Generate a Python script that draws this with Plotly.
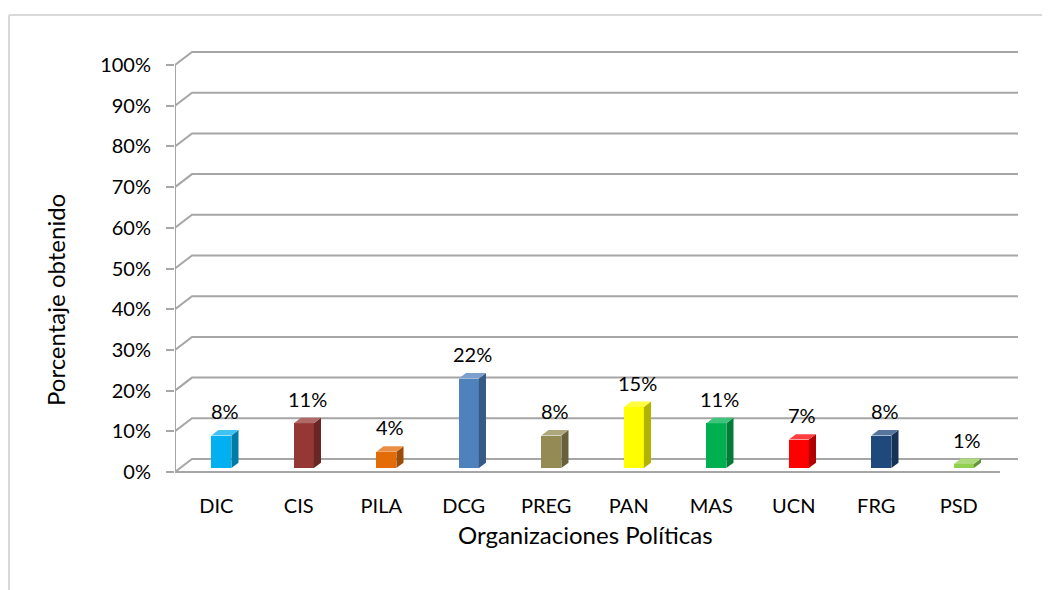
import plotly.graph_objects as go

categories = ["DIC", "CIS", "PILA", "DCG", "PREG", "PAN", "MAS", "UCN", "FRG", "PSD"]
values = [8, 11, 4, 22, 8, 15, 11, 7, 8, 1]
colors = ["#00B0F0", "#953735", "#E36C09", "#4F81BD", "#948A54",
          "#FFFF00", "#00B050", "#FF0000", "#1F497D", "#92D050"]
y_ticks = [0, 10, 20, 30, 40, 50, 60, 70, 80, 90, 100]
y_ticktext = [f"{v}%" for v in y_ticks]

FONT = "Lato"
OFF = 8                       # page offset of the figure (body margin)
W, H = 1050 - OFF, 590 - OFF
# plot area in page pixels
P_L, P_R, P_T, P_B = 175, 1020, 40, 480
ML, MR = P_L - OFF, (OFF + W) - P_R
MT, MB = P_T - OFF, (OFF + H) - P_B
PX_X = 82.5          # px per category
PX_Y = 4.07          # px per percent
Y0_PAGE = 472        # page y of 0% on front plane
plot_w = P_R - P_L
plot_h = P_B - P_T
x_range = [0, plot_w / PX_X]
y_top = (Y0_PAGE - P_T) / PX_Y
y_range = [y_top - plot_h / PX_Y, y_top]


def px(page_x):
    return (page_x - P_L) / plot_w


def py(page_y):
    return (P_B - page_y) / plot_h


# 3D depth (in data units)
DX = 17 / PX_X
DY = 13 / PX_Y
BAR_W = 20 / PX_X
B0, B1 = 0.3, 0.72   # bar front / back depth fractions


def shade(hexc, f):
    h = hexc.lstrip("#")
    r, g, b = (int(h[i:i + 2], 16) for i in (0, 2, 4))
    if f < 1:
        r, g, b = (int(c * f) for c in (r, g, b))
    else:
        r, g, b = (int(c + (255 - c) * (f - 1)) for c in (r, g, b))
    return f"rgb({r},{g},{b})"


fig = go.Figure()

n = len(categories)
xc = [i + 0.5 for i in range(n)]

# front faces
fig.add_trace(go.Bar(
    x=[c + B0 * DX for c in xc], y=values, base=[B0 * DY] * n,
    width=BAR_W, marker=dict(color=colors, line=dict(width=0)),
    hoverinfo="skip", showlegend=False))

dd_x = (B1 - B0) * DX
dd_y = (B1 - B0) * DY
annotations = []
for c, v, col in zip(xc, values, colors):
    xl = c + B0 * DX - BAR_W / 2
    xr = c + B0 * DX + BAR_W / 2
    yb = B0 * DY
    yt = yb + v
    # side face
    fig.add_trace(go.Scatter(
        x=[xr, xr + dd_x, xr + dd_x, xr, xr],
        y=[yb, yb + dd_y, yt + dd_y, yt, yb],
        fill="toself", fillcolor=shade(col, 0.7), mode="lines",
        line=dict(width=0, color=shade(col, 0.7)),
        hoverinfo="skip", showlegend=False))
    # top face
    fig.add_trace(go.Scatter(
        x=[xl, xr, xr + dd_x, xl + dd_x, xl],
        y=[yt, yt, yt + dd_y, yt + dd_y, yt],
        fill="toself", fillcolor=shade(col, 1.25), mode="lines",
        line=dict(width=0, color=shade(col, 1.25)),
        hoverinfo="skip", showlegend=False))
    annotations.append(dict(
        x=c + (B0 + B1) / 2 * DX, y=yt + dd_y, text=f"{v}%",
        showarrow=False, yanchor="bottom", yshift=5,
        font=dict(family=FONT, size=20, color="#000")))

# gridlines (back wall) with slanted stubs
x_end = x_range[1] - 2 / PX_X
shapes = []
grid_col = "#A6A6A6"
for v in y_ticks:
    shapes.append(dict(type="path", xref="x", yref="y", layer="below",
                       path=f"M 0,{v} L {DX},{v + DY} L {x_end},{v + DY}",
                       line=dict(color=grid_col, width=2)))
# front vertical axis line
shapes.append(dict(type="line", xref="x", yref="y", x0=0, x1=0, y0=0, y1=100,
                   line=dict(color=grid_col, width=2), layer="below"))
# floor front edge
shapes.append(dict(type="line", xref="x", yref="y", x0=0, x1=n, y0=0, y1=0,
                   line=dict(color=grid_col, width=2), layer="below"))
# outer chart border (top and left)
shapes.append(dict(type="line", xref="paper", yref="paper",
                   x0=px(9), x1=px(1060), y0=py(15), y1=py(15),
                   line=dict(color="#D9D9D9", width=2)))
shapes.append(dict(type="line", xref="paper", yref="paper",
                   x0=px(9), x1=px(9), y0=py(15), y1=py(600),
                   line=dict(color="#D9D9D9", width=2)))

annotations += [
    dict(text="Porcentaje obtenido", xref="paper", yref="paper",
         x=px(56), y=py(300), textangle=-90, showarrow=False,
         xanchor="center", yanchor="middle",
         font=dict(family=FONT, size=24, color="#000")),
    dict(text="Organizaciones Políticas", xref="paper", yref="paper",
         x=px(585), y=py(534), showarrow=False,
         xanchor="center", yanchor="middle",
         font=dict(family=FONT, size=24, color="#000")),
]

fig.update_layout(
    width=W, height=H,
    margin=dict(l=ML, r=MR, t=MT, b=MB),
    paper_bgcolor="white", plot_bgcolor="white",
    shapes=shapes, annotations=annotations,
    bargap=0,
    xaxis=dict(range=x_range, tickvals=xc, ticktext=categories,
               showgrid=False, zeroline=False, showline=False,
               ticks="", ticklabelstandoff=12,
               tickfont=dict(family=FONT, size=20, color="#000")),
    yaxis=dict(range=y_range, tickvals=y_ticks, ticktext=y_ticktext,
               showgrid=False, zeroline=False, showline=False,
               ticks="outside", ticklen=8, tickcolor=grid_col, tickwidth=2,
               ticklabelstandoff=11,
               tickfont=dict(family=FONT, size=20, color="#000")),
)

fig.write_html("out.html")
